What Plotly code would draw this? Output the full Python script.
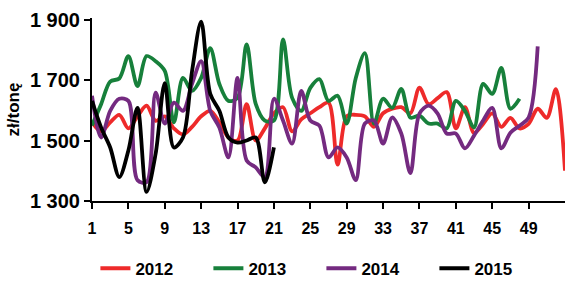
import plotly.graph_objects as go

weeks_2012 = list(range(1, 54))
vals_2012 = [1560, 1530, 1560, 1585, 1540, 1580, 1615, 1565, 1580, 1540,
             1520, 1545, 1580, 1598, 1560, 1510, 1500, 1620, 1500, 1540,
             1590, 1610, 1530, 1570, 1590, 1610, 1625, 1420, 1580, 1585,
             1580, 1545, 1590, 1605, 1610, 1590, 1675, 1620, 1640, 1660,
             1540, 1610, 1525, 1555, 1590, 1545, 1575, 1540, 1555, 1605,
             1575, 1670, 1400]

weeks_2013 = list(range(1, 49))
vals_2013 = [1550, 1620, 1695, 1705, 1779, 1680, 1779, 1762, 1730, 1560,
             1707, 1664, 1707, 1805, 1687, 1631, 1641, 1818, 1621, 1566,
             1566, 1834, 1641, 1598, 1674, 1703, 1631, 1648, 1556, 1707,
             1789, 1556, 1638, 1608, 1671, 1576, 1582, 1556, 1556, 1540,
             1631, 1598, 1543, 1687, 1654, 1740, 1605, 1638]

weeks_2014 = list(range(1, 51))
vals_2014 = [1648, 1510, 1598, 1638, 1631, 1369, 1362, 1658, 1556, 1625,
             1598, 1687, 1762, 1598, 1543, 1444, 1707, 1434, 1411, 1379,
             1638, 1566, 1490, 1664, 1566, 1549, 1444, 1477, 1444, 1369,
             1556, 1566, 1490, 1576, 1523, 1392, 1589, 1615, 1589, 1523,
             1523, 1474, 1516, 1566, 1608, 1474, 1526, 1549, 1576, 1811]

weeks_2015 = list(range(1, 22))
vals_2015 = [1631, 1543, 1477, 1379, 1467, 1608, 1330, 1457, 1690, 1477,
             1510, 1730, 1893, 1654, 1598, 1510, 1493, 1500, 1510, 1362,
             1477]

x_ticks = list(range(1, 50, 4))
y_ticks = [1300, 1500, 1700, 1900]
y_tick_labels = ["1 300", "1 500", "1 700", "1 900"]

series = [
    ("2012", weeks_2012, vals_2012, "#ee2a2a"),
    ("2013", weeks_2013, vals_2013, "#17803b"),
    ("2014", weeks_2014, vals_2014, "#742a80"),
    ("2015", weeks_2015, vals_2015, "#000000"),
]

fig = go.Figure()
for name, xs, ys, col in series:
    fig.add_trace(go.Scatter(
        x=xs, y=ys, name=name, mode="lines",
        line=dict(color=col, width=3.8, shape="spline", smoothing=0.9),
    ))

font_family = "Liberation Sans, Arial, sans-serif"

fig.update_layout(
    width=565, height=289,
    margin=dict(l=92, r=0, t=18, b=88, autoexpand=False),
    plot_bgcolor="white", paper_bgcolor="white",
    font=dict(family=font_family, color="black", weight="bold"),
    showlegend=True,
    legend=dict(
        orientation="h", x=0.485, xanchor="center", y=-0.37, yanchor="middle",
        font=dict(size=17, family=font_family, weight="bold"),
        entrywidth=68, entrywidthmode="pixels",
        bgcolor="rgba(0,0,0,0)",
    ),
    xaxis=dict(
        range=[1, 53], tickmode="array", tickvals=x_ticks,
        ticktext=[str(t) for t in x_ticks], automargin=False,
        showgrid=False, zeroline=False,
        showline=True, linecolor="black", linewidth=2,
        ticks="outside", ticklen=6, tickwidth=2, tickcolor="black",
        tickfont=dict(size=16, family=font_family, weight="bold"),
        ticklabelstandoff=6,
    ),
    yaxis=dict(
        range=[1300, 1905], tickmode="array", tickvals=y_ticks,
        ticktext=y_tick_labels, automargin=False,
        showgrid=False, zeroline=False,
        showline=True, linecolor="black", linewidth=2,
        ticks="outside", ticklen=6, tickwidth=2, tickcolor="black",
        tickfont=dict(size=20, family=font_family, weight="bold"),
        title=dict(text="zł/tonę", font=dict(size=17, family=font_family, weight="bold"), standoff=6),
    ),
)

fig.write_html("out.html", config={"displayModeBar": False},
               post_script="document.body.style.margin='0';document.body.style.overflow='hidden';")
